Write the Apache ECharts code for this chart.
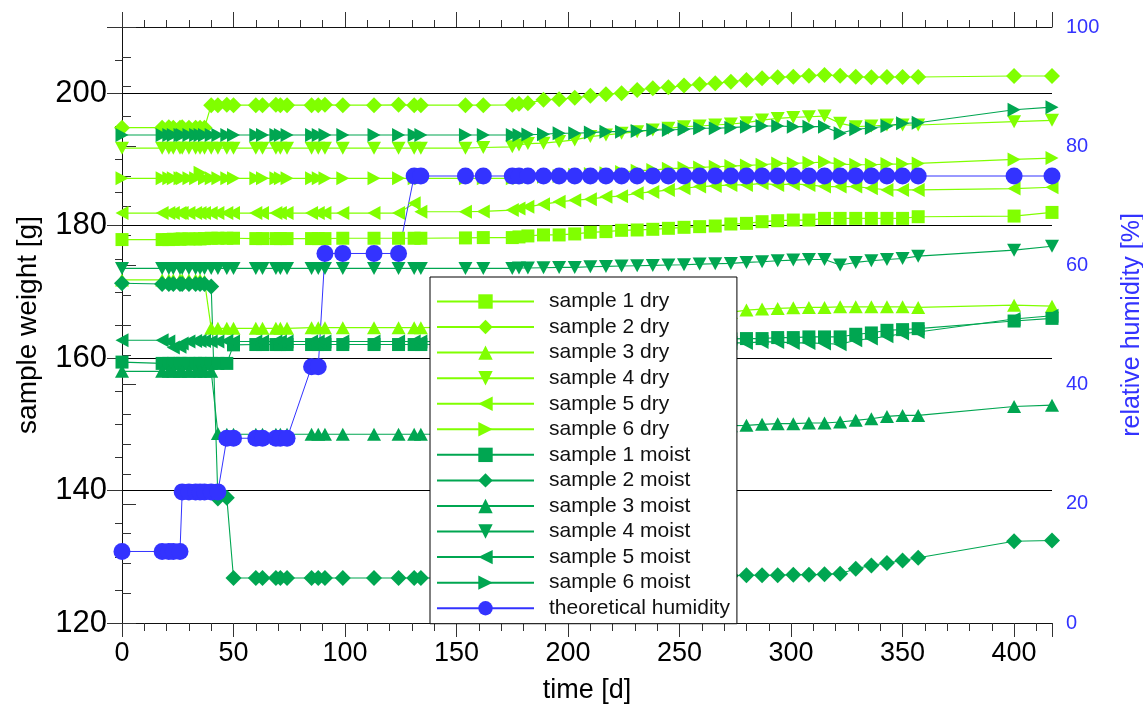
<!DOCTYPE html>
<html>
<head>
<meta charset="utf-8">
<script src="https://cdn.jsdelivr.net/npm/echarts@6/dist/echarts.min.js"></script>
<style>
  html, body { margin: 0; padding: 0; background: #fff; }
  #chart { width: 1143px; height: 704px; }
</style>
</head>
<body>
<div id="chart"></div>
<script>
// Measurement days
const days = [0, 18, 21, 23, 26, 27, 30, 33, 35, 37, 40, 43, 47, 50, 60, 63, 69, 71, 74, 85,
  88, 91, 99, 113, 124, 131, 134, 154, 162, 175, 178, 182, 189, 196, 203, 210, 217, 224, 231, 238,
  245, 252, 259, 266, 273, 280, 287, 294, 301, 308, 315, 322, 329, 336, 343, 350, 357, 400, 417];

// Sample weights [g]
const sample1Dry = [177.9, 177.9, 177.9, 177.95, 177.95, 178.0, 178.0, 178.0, 178.0, 178.05,
  178.1, 178.1, 178.1, 178.1, 178.05, 178.05, 178.05, 178.05, 178.05, 178.05,
  178.05, 178.05, 178.1, 178.1, 178.1, 178.1, 178.1, 178.15, 178.2, 178.2,
  178.3, 178.45, 178.6, 178.6, 178.75, 179.0, 179.1, 179.3, 179.35, 179.45,
  179.6, 179.75, 179.85, 179.95, 180.25, 180.35, 180.6, 180.75, 180.85, 180.85,
  181.1, 181.1, 181.1, 181.1, 181.1, 181.1, 181.35, 181.45, 182.0];

const sample2Dry = [194.8, 194.8, 194.85, 194.8, 194.8, 194.85, 194.8, 194.8, 194.8, 194.8,
  198.2, 198.2, 198.25, 198.2, 198.2, 198.2, 198.25, 198.2, 198.2, 198.2,
  198.2, 198.25, 198.2, 198.2, 198.25, 198.2, 198.2, 198.2, 198.2, 198.25,
  198.4, 198.5, 199.0, 199.1, 199.3, 199.6, 199.85, 200.0, 200.5, 200.75,
  200.9, 201.15, 201.35, 201.5, 201.75, 202.0, 202.25, 202.4, 202.5, 202.65,
  202.75, 202.65, 202.5, 202.4, 202.45, 202.45, 202.45, 202.6, 202.6];

const sample3Dry = [171.8, 171.8, 171.8, 171.8, 171.8, 171.8, 171.8, 171.8, 171.8, 171.6,
  164.5, 164.5, 164.5, 164.5, 164.5, 164.5, 164.5, 164.5, 164.5, 164.6,
  164.6, 164.6, 164.6, 164.6, 164.6, 164.6, 164.6, 164.7, 164.7, 164.8,
  164.85, 164.9, 165.0, 165.1, 165.25, 165.4, 165.5, 165.6, 165.75, 165.85,
  166.0, 166.1, 166.3, 166.5, 166.9, 167.25, 167.4, 167.5, 167.6, 167.65,
  167.65, 167.75, 167.75, 167.75, 167.75, 167.75, 167.65, 168.0, 167.85];

const sample4Dry = [191.7, 191.7, 191.7, 191.7, 191.7, 191.7, 191.7, 191.7, 191.7, 191.7,
  191.7, 191.7, 191.7, 191.7, 191.7, 191.7, 191.7, 191.7, 191.7, 191.7,
  191.7, 191.7, 191.7, 191.7, 191.7, 191.7, 191.7, 191.7, 191.8, 191.9,
  192.2, 192.4, 192.45, 192.7, 192.95, 193.45, 193.7, 193.95, 194.2, 194.45,
  194.7, 194.95, 195.05, 195.2, 195.35, 195.55, 195.95, 196.2, 196.35, 196.45,
  196.55, 195.45, 194.95, 195.05, 195.2, 195.2, 195.2, 195.7, 195.9];

const sample5Dry = [181.9, 181.9, 181.9, 181.9, 181.9, 181.9, 181.9, 181.9, 181.9, 181.9,
  181.9, 181.9, 181.9, 181.9, 181.9, 181.9, 181.9, 181.9, 181.9, 181.9,
  181.9, 181.9, 181.9, 181.9, 181.9, 183.4, 182.1, 182.1, 182.15, 182.35,
  182.6, 182.85, 183.25, 183.6, 183.85, 184.0, 184.35, 184.45, 184.9, 185.1,
  185.4, 185.65, 185.9, 186.0, 186.15, 186.15, 186.4, 186.15, 186.3, 186.15,
  185.9, 185.9, 185.9, 185.65, 185.4, 185.4, 185.4, 185.6, 185.8];

const sample6Dry = [187.15, 187.15, 187.15, 187.15, 187.15, 187.15, 187.15, 187.15, 188.0, 187.15,
  187.15, 187.15, 187.15, 187.15, 187.15, 187.15, 187.15, 187.15, 187.15, 187.15,
  187.15, 187.15, 187.15, 187.15, 187.15, 187.15, 187.15, 187.15, 187.15, 187.15,
  187.2, 187.3, 187.4, 187.5, 187.7, 187.8, 187.9, 188.1, 188.3, 188.4,
  188.6, 188.7, 188.8, 188.9, 189.0, 189.1, 189.2, 189.4, 189.4, 189.5,
  189.6, 189.3, 189.2, 189.2, 189.3, 189.3, 189.4, 190.0, 190.2];

const sample1Moist = [159.4, 159.2, 159.2, 159.2, 159.2, 159.2, 159.2, 159.2, 159.2, 159.2,
  159.2, 159.2, 159.2, 162.0, 162.05, 162.05, 162.05, 162.05, 162.05, 162.05,
  162.05, 162.05, 162.05, 162.05, 162.05, 162.05, 162.05, 162.1, 162.1, 162.15,
  162.2, 162.2, 162.25, 162.3, 162.35, 162.4, 162.45, 162.5, 162.55, 162.6,
  162.65, 162.7, 162.75, 162.8, 162.9, 162.95, 162.95, 163.1, 163.1, 163.2,
  163.2, 163.2, 163.6, 163.8, 164.2, 164.3, 164.45, 165.6, 166.0];

const sample2Moist = [171.3, 171.2, 171.2, 171.2, 171.2, 171.2, 171.2, 171.2, 171.2, 171.2,
  170.8, 138.8, 138.9, 126.8, 126.8, 126.8, 126.8, 126.8, 126.8, 126.8,
  126.8, 126.8, 126.8, 126.8, 126.8, 126.8, 126.8, 126.8, 126.8, 126.85,
  126.85, 126.9, 126.9, 126.95, 127.0, 127.0, 127.0, 127.05, 127.05, 127.1,
  127.1, 127.1, 127.15, 127.15, 127.15, 127.2, 127.2, 127.2, 127.3, 127.3,
  127.35, 127.45, 128.2, 128.7, 129.05, 129.45, 129.85, 132.35, 132.45];

const sample3Moist = [158.0, 158.0, 158.0, 158.0, 158.0, 158.0, 158.0, 158.0, 158.0, 158.0,
  158.0, 148.6, 148.5, 148.5, 148.5, 148.5, 148.5, 148.5, 148.5, 148.5,
  148.5, 148.5, 148.5, 148.5, 148.5, 148.5, 148.5, 148.55, 148.6, 148.65,
  148.7, 148.75, 148.8, 148.85, 148.9, 149.0, 149.05, 149.1, 149.2, 149.3,
  149.4, 149.5, 149.6, 149.7, 149.8, 149.85, 150.0, 150.1, 150.1, 150.2,
  150.2, 150.35, 150.6, 150.85, 151.2, 151.35, 151.35, 152.7, 152.9];

const sample4Moist = [173.55, 173.55, 173.55, 173.55, 173.55, 173.55, 173.55, 173.55, 173.55, 173.55,
  173.55, 173.55, 173.55, 173.55, 173.55, 173.55, 173.55, 173.55, 173.55, 173.55,
  173.55, 173.55, 173.55, 173.55, 173.55, 173.55, 173.55, 173.55, 173.55, 173.55,
  173.6, 173.6, 173.65, 173.7, 173.7, 173.8, 173.85, 173.9, 173.95, 174.0,
  174.05, 174.1, 174.2, 174.25, 174.3, 174.45, 174.55, 174.7, 174.8, 174.9,
  174.9, 174.05, 174.45, 174.7, 174.9, 175.05, 175.4, 176.3, 176.9];

const sample5Moist = [162.7, 162.7, 162.5, 161.6, 161.7, 162.2, 162.5, 162.6, 162.6, 162.6,
  162.5, 162.5, 162.6, 162.5, 162.5, 162.5, 162.5, 162.5, 162.5, 162.5,
  162.5, 162.5, 162.5, 162.5, 162.5, 162.5, 162.5, 162.45, 162.4, 162.4,
  162.4, 162.4, 162.35, 162.35, 162.35, 162.3, 162.3, 162.3, 162.3, 162.3,
  162.3, 162.3, 162.3, 162.3, 162.3, 162.3, 162.45, 162.45, 162.3, 162.3,
  162.2, 162.1, 162.7, 162.95, 163.3, 163.7, 163.95, 165.9, 166.4];

const sample6Moist = [193.7, 193.7, 193.7, 193.7, 193.7, 193.7, 193.7, 193.7, 193.7, 193.7,
  193.7, 193.7, 193.7, 193.7, 193.7, 193.7, 193.7, 193.7, 193.7, 193.7,
  193.7, 193.7, 193.7, 193.7, 193.7, 193.7, 193.7, 193.7, 193.7, 193.7,
  193.7, 193.75, 193.8, 193.95, 193.95, 194.05, 194.2, 194.2, 194.3, 194.45,
  194.45, 194.55, 194.7, 194.7, 194.8, 194.95, 195.05, 195.05, 194.95, 194.95,
  194.95, 193.95, 194.55, 194.75, 195.05, 195.45, 195.55, 197.5, 197.9];

// Relative humidity set point [%]
const humidity = [12, 12, 12, 12, 12, 22, 22, 22, 22, 22,
  22, 22, 31, 31, 31, 31, 31, 31, 31, 43,
  43, 62, 62, 62, 62, 75, 75, 75, 75, 75,
  75, 75, 75, 75, 75, 75, 75, 75, 75, 75,
  75, 75, 75, 75, 75, 75, 75, 75, 75, 75,
  75, 75, 75, 75, 75, 75, 75, 75, 75];

const seriesNames = ['sample 1 dry', 'sample 2 dry', 'sample 3 dry', 'sample 4 dry', 'sample 5 dry', 'sample 6 dry',
  'sample 1 moist', 'sample 2 moist', 'sample 3 moist', 'sample 4 moist', 'sample 5 moist', 'sample 6 moist',
  'theoretical humidity'];

const DRY = '#80ff00';
const MOIST = '#00a651';
const BLUE = '#3333ff';
const AXIS = '#111';
const FONT = '"Liberation Sans", Arial, Helvetica, sans-serif';

const SQUARE = 'rect';
const DIAMOND = 'path://M5,0L10,5L5,10L0,5Z';
const TRI_UP = 'path://M5,0L10,10L0,10Z';
const TRI_DOWN = 'path://M0,0L10,0L5,10Z';
const TRI_LEFT = 'path://M0,5L10,0L10,10Z';
const TRI_RIGHT = 'path://M0,0L10,5L0,10Z';

const markers = [
  [SQUARE, 13], [DIAMOND, 16], [TRI_UP, [14, 13]], [TRI_DOWN, [14, 13]], [TRI_LEFT, [13, 14]], [TRI_RIGHT, [13, 14]]
];

function lineSeries(name, values, color, lineColor, marker, size, axisIndex, width) {
  return {
    name: name,
    type: 'line',
    yAxisIndex: axisIndex,
    data: days.map((d, i) => [d, values[i]]),
    symbol: marker,
    symbolSize: size,
    showAllSymbol: true,
    itemStyle: { color: color },
    lineStyle: { color: lineColor, width: width },
    emphasis: { disabled: true },
    animation: false
  };
}

const dryValues = [sample1Dry, sample2Dry, sample3Dry, sample4Dry, sample5Dry, sample6Dry];
const moistValues = [sample1Moist, sample2Moist, sample3Moist, sample4Moist, sample5Moist, sample6Moist];

const series = [];
dryValues.forEach((v, i) => series.push(lineSeries(seriesNames[i], v, DRY, DRY, markers[i][0], markers[i][1], 0, 1.2)));
moistValues.forEach((v, i) => series.push(lineSeries(seriesNames[6 + i], v, MOIST, MOIST, markers[i][0], markers[i][1], 0, 1.1)));
series.push(lineSeries(seriesNames[12], humidity, BLUE, BLUE, 'circle', 17, 1, 1));

const chart = echarts.init(document.getElementById('chart'), null, { renderer: 'canvas' });
chart.setOption({
  animation: false,
  backgroundColor: '#fff',
  grid: { left: 122, right: 91, top: 27, bottom: 81, containLabel: false, outerBoundsMode: 'none' },
  legend: {
    orient: 'vertical',
    left: 430,
    top: 277,
    backgroundColor: '#fff',
    borderColor: '#000',
    borderWidth: 1,
    borderRadius: 0,
    padding: [14, 7, 5, 6],
    itemWidth: 97,
    itemHeight: 18,
    itemGap: 4.56,
    selectedMode: false,
    textStyle: { fontFamily: FONT, fontSize: 21, color: '#111', padding: [0, 0, 0, 10] },
    data: seriesNames
  },
  xAxis: [
    {
      type: 'value', position: 'bottom', min: 0, max: 417, interval: 50,
      name: 'time [d]', nameLocation: 'middle', nameGap: 54, nameMoveOverlap: false,
      nameTextStyle: { fontFamily: FONT, fontSize: 27, color: '#000' },
      axisLine: { show: true, lineStyle: { color: AXIS, width: 1 } },
      axisTick: { show: true, inside: false, length: 14, lineStyle: { color: '#333' } },
      minorTick: { show: true, splitNumber: 5, length: 8, lineStyle: { color: '#333' } },
      axisLabel: { margin: 17, showMaxLabel: false, fontFamily: FONT, fontSize: 27, color: '#000' },
      splitLine: { show: false }
    },
    {
      type: 'value', position: 'top', min: 0, max: 417, interval: 50,
      axisLine: { show: true, lineStyle: { color: AXIS, width: 1 } },
      axisTick: { show: true, inside: false, length: 15, lineStyle: { color: '#333' } },
      minorTick: { show: true, splitNumber: 5, length: 7, lineStyle: { color: '#333' } },
      axisLabel: { show: false },
      splitLine: { show: false }
    }
  ],
  yAxis: [
    {
      type: 'value', position: 'left', min: 120, max: 210, interval: 20,
      name: 'sample weight [g]', nameLocation: 'middle', nameGap: 80, nameMoveOverlap: false,
      nameTextStyle: { fontFamily: FONT, fontSize: 28, color: '#000' },
      axisLine: { show: true, lineStyle: { color: AXIS, width: 1 } },
      axisTick: { show: true, inside: false, length: 15, lineStyle: { color: '#333' } },
      minorTick: { show: true, splitNumber: 4, length: 7, lineStyle: { color: '#333' } },
      axisLabel: { margin: 15, showMaxLabel: false, fontFamily: FONT, fontSize: 31, color: '#000' },
      splitLine: { show: true, lineStyle: { color: '#000', width: 1 } }
    },
    {
      type: 'value', position: 'right', min: 0, max: 100, interval: 20,
      name: 'relative humidity [%]', nameLocation: 'middle', nameGap: 68, nameMoveOverlap: false,
      nameTextStyle: { fontFamily: FONT, fontSize: 25, color: BLUE },
      axisLine: { show: true, lineStyle: { color: AXIS, width: 1 } },
      axisTick: { show: true, inside: false, length: 14, lineStyle: { color: '#333' } },
      minorTick: { show: true, splitNumber: 4, length: 9, lineStyle: { color: '#333' } },
      axisLabel: { margin: 14, fontFamily: FONT, fontSize: 20, color: BLUE },
      splitLine: { show: false }
    }
  ],
  series: series
});
</script>
</body>
</html>
